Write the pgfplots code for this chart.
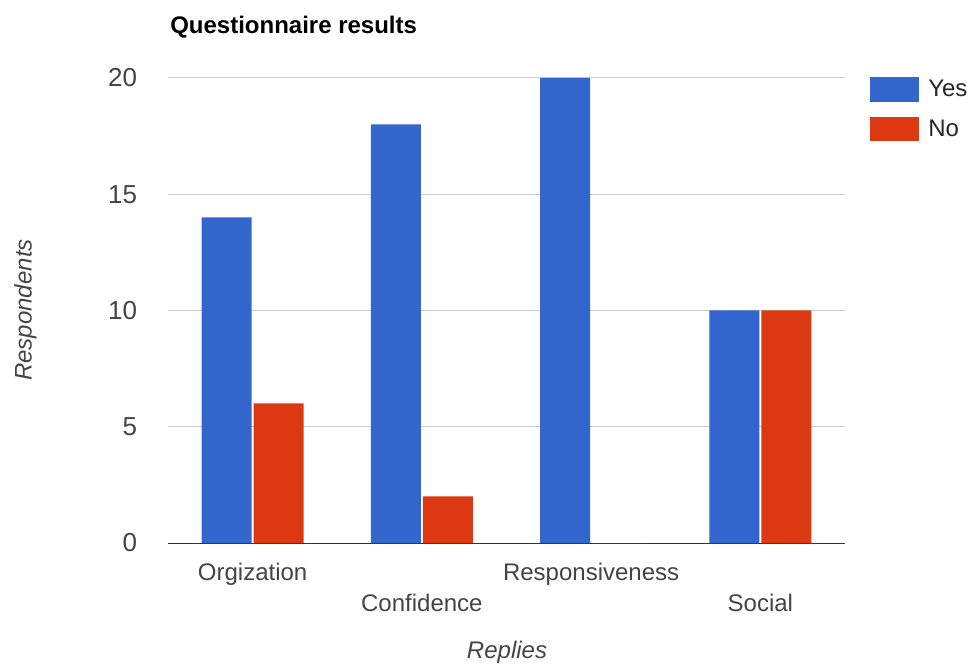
\documentclass[border=0pt]{standalone}
\usepackage{fontspec}
\setmainfont{Liberation Sans}
\usepackage{pgfplots}
\pgfplotsset{compat=1.18}
\definecolor{gyes}{HTML}{3366CC}
\definecolor{gno}{HTML}{DC3912}
\definecolor{tickc}{HTML}{444444}
\definecolor{gridc}{HTML}{CCCCCC}
\begin{document}
\begin{tikzpicture}
\path[use as bounding box] (0,0) rectangle (728.25pt,498pt);
\begin{axis}[
  at={(126pt,90.75pt)}, anchor=south west,
  scale only axis, width=507.75pt, height=348.75pt,
  xmin=-0.5, xmax=3.5, ymin=0, ymax=20,
  axis x line*=bottom, axis y line*=left,
  x axis line style={draw=black!80, line width=0.75pt, -},
  y axis line style={draw=none},
  xtick={0,1,2,3},
  xticklabels={{\strut Orgization},{\strut\\\strut Confidence},{\strut Responsiveness},{\strut\\\strut Social}},
  xticklabel style={align=center, anchor=north, inner sep=0pt, yshift=-11.45pt, text=tickc, font=\fontsize{18}{23.25}\selectfont},
  major tick length=0pt,
  ytick={0,5,10,15,20},
  yticklabel style={anchor=east, inner sep=0pt, xshift=-23pt, text=tickc, font=\fontsize{19.5}{23.25}\selectfont},
  ymajorgrids, grid style={gridc, line width=0.75pt},
  /pgf/number format/assume math mode=true,
  ybar, bar width=37.5pt,
]
\addplot[fill=gyes, draw=none, bar shift=-19.5pt] coordinates {(0,14) (1,18) (2,20) (3,10)};
\addplot[fill=gno, draw=none, bar shift=19.5pt] coordinates {(0,6) (1,2) (2,0) (3,10)};
\end{axis}
% title
\node[anchor=base west, inner sep=0pt, font=\fontsize{18}{22}\selectfont\bfseries] at (127.5pt,472.5pt) {Questionnaire results};
% axis titles
\node[rotate=90, anchor=base, inner sep=0pt, text=tickc, font=\fontsize{18}{22}\selectfont\itshape] at (23.8pt,265.5pt) {Respondents};
\node[anchor=base, inner sep=0pt, text=tickc, font=\fontsize{18}{22}\selectfont\itshape] at (380.25pt,4pt) {Replies};
% legend
\fill[gyes] (652.5pt,421.5pt) rectangle (689.25pt,440.25pt);
\fill[gno] (652.5pt,392.25pt) rectangle (689.25pt,410.25pt);
\node[anchor=base west, inner sep=0pt, text=black!85, font=\fontsize{18}{22}\selectfont] at (696pt,425.25pt) {Yes};
\node[anchor=base west, inner sep=0pt, text=black!85, font=\fontsize{18}{22}\selectfont] at (696pt,395.25pt) {No};
\end{tikzpicture}
\end{document}
